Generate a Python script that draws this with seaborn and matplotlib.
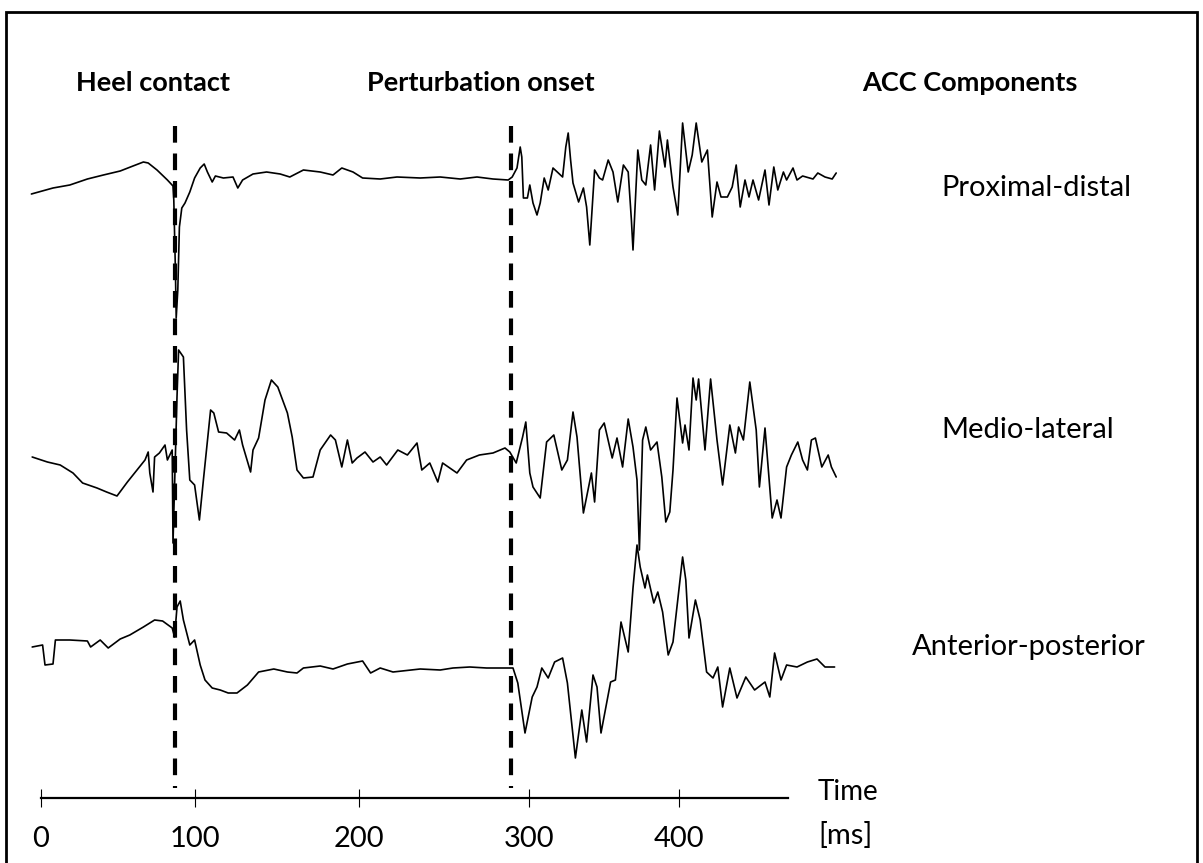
import numpy as np
import pandas as pd
import matplotlib
matplotlib.use("Agg")
import matplotlib.pyplot as plt
from matplotlib.patches import Rectangle
import seaborn as sns

# ---------------- data (time in ms, amplitude in arbitrary units) ----------------
pd_time = [-6, 7.5, 18, 29, 39, 49.5, 57.5, 64, 67, 72.5, 79, 82.5, 83, 84, 84.5, 85.5, 86.5, 88, 90, 93,
           96, 99.5, 102, 104, 107, 109, 114, 120, 123, 126, 132.5, 141, 149.5, 155.5, 164, 174.5, 182.5,
           188, 195, 201, 212, 222.5, 237, 249.5, 262, 272.5, 282.5, 292, 294.5, 297.5, 299.5, 300.5,
           301.5, 304, 305.5, 307.5, 310, 312, 314.5, 317, 320, 326, 328, 329.5, 331, 332.5, 336, 339,
           341, 343, 346, 349, 351, 354.5, 357.5, 360.5, 364, 367, 369, 370, 372.5, 373, 375.5, 378, 381,
           383.5, 386.5, 390, 391.5, 395, 398, 401, 404.5, 407, 409.5, 413, 416.5, 419.5, 422.5, 425,
           429, 432, 434.5, 437, 440, 442.5, 445, 448.5, 452.5, 455, 458, 460.5, 464, 466, 470, 472.5,
           476, 482.5, 485.5, 490, 494.5, 497]
pd_vals = [-16, -10, -7, -1, 3, 7, 12, 16, 15, 8, -2, -8, -22, -92, -140, -112, -49, -30, -25, -14,
           0, 10, 14, 6, -4, 2, 0, 1, -10, -2, 4, 6, 4, 1, 8, 6, 3,
           10, 6, 0, -1, 1, 0, 1, -1, 1, -1, -2, 1, 10, 31, 21,
           -20, -20, -7, -25, -37, -25, 0, -12, 10, 1, 31, 45, 18, -5, -24, -10,
           -29, -67, 8, 0, -2, 18, 6, -24, 13, 6, -42, -72, 11, 28, -2, -7, 33,
           -12, 47, 11, 38, -9, -37, 55, 6, 23, 55, 16, 28, -39, -4, -19,
           -19, -9, 13, -29, -2, -19, -2, -22, 8, -27, 11, -12, 6, -2, 10, -2,
           2, -1, 5, 1, -1, 5]

ml_time = [-5.5, 4, 12, 20, 26, 35, 41, 47.5, 54, 60, 65, 67, 68, 70, 71, 74, 77.5, 79, 82, 82.5, 85,
           86, 89, 91, 93, 96, 99, 101.5, 106, 108, 111, 116, 121, 124, 126, 131, 132.5, 136, 140, 144,
           148, 154, 157, 160, 164, 170, 174.5, 181, 184, 188, 191.5, 194.5, 197.5, 202.5, 207.5, 212,
           216, 223, 229, 235, 238, 243, 248, 251, 260, 266, 274, 282.5, 290, 293, 297, 301, 303, 305.5,
           307.5, 312, 316, 320.5, 325.5, 329, 332.5, 335, 339, 344, 346, 349, 352, 357, 360, 363.5, 367,
           370, 372.5, 374, 376, 378, 381, 385, 388, 390.5, 393, 395, 397.5, 401, 402.5, 405, 407.5,
           409.5, 411, 415, 418.5, 422.5, 426, 430.5, 434, 436, 439, 443, 447, 449, 452.5, 457, 460,
           462.5, 466, 469, 473, 476, 479, 481.5, 484, 488, 492, 494, 497]
ml_vals = [-2, -7, -10, -18, -28, -33, -37, -41, -27, -15, -5, 3, -18, -37, -2, 2, 10, -5, 5, -88, 58,
           105, 98, 25, -25, -30, -65, -25, 45, 42, 23, 22, 15, 25, 10, -17, 5, 17, 55, 75,
           68, 42, 18, -15, -23, -22, 5, 20, 15, -12, 15, -8, -3, 3, -7, -2,
           -10, 5, 0, 12, -15, -8, -27, -8, -18, -5, 0, 2, 7, 3, -8, 18, 33, -18,
           -32, -43, 13, 20, -15, -5, 43, 18, -58, -18, -47, 25, 32, -3, 17, -12, 36,
           8, -25, -95, 15, 28, 5, 13, -22, -67, -57, -15, 57, 12, 30, 5, 77,
           55, 76, 5, 76, 15, -30, 30, 2, 28, 15, 73, 25, -32, 27, -63, -45,
           -63, -12, 0, 13, -5, -15, 15, 17, -12, 0, -12, -22]

ap_time = [-5.5, 1, 2.5, 7.5, 9, 18, 29, 31, 37, 42, 49.5, 55.5, 64, 71, 76, 82, 83.5, 85, 87, 89, 93,
           96, 99.5, 102.5, 107, 112, 117, 122.5, 129, 136, 145.5, 154, 160, 164, 174.5, 182.5, 191.5,
           201, 206, 212, 220, 237, 249.5, 257.5, 268, 278.5, 291, 295, 298, 302.5, 307, 310, 313, 317,
           321, 326, 329, 334, 338, 341, 345, 347.5, 350, 356, 359, 362.5, 367, 370, 372.5, 374.5,
           377.5, 379, 383, 385.5, 388.5, 392, 395, 401, 403, 405, 409, 412, 416, 420, 423, 426, 430.5,
           435, 440.5, 446, 452.5, 455.5, 458.5, 462.5, 466, 472.5, 479, 485, 490, 496]
ap_vals = [21, 23, 3, 4, 28, 28, 27, 21, 28, 20, 29, 33, 41, 48, 47, 40, 31, 61, 67, 48, 23,
           28, 3, -12, -20, -22, -25, -25, -17, -4, -1, -4, -5, 0, 2, -1, 4,
           7, -5, 0, -4, -1, -2, 0, 1, 0, 0, 0, -15, -65, -29, -19, 0, -10,
           6, 10, -15, -90, -42, -74, -7, -19, -65, -14, -12, 46, 16, 80, 123, 101,
           80, 93, 65, 76, 56, 13, 26, 111, 88, 30, 68, 48, -4, -10, 1, -39, 0,
           -30, -9, -22, -14, -29, 15, -12, 3, 1, 6, 9, 1, 1]

components = ["Proximal-distal", "Medio-lateral", "Anterior-posterior"]
events = ["Heel contact", "Perturbation onset"]
event_times = [83.75, 293.75]
tick_pos = [0, 96, 199, 305, 399]
tick_labels = ["0", "100", "200", "300", "400"]

# ---------------- layout ----------------
W, H = 1203, 863
baselines = [685, 408, 195]   # vertical offsets of each trace

frames = []
for name, t, v, base in zip(components, [pd_time, ml_time, ap_time],
                            [pd_vals, ml_vals, ap_vals], baselines):
    frames.append(pd.DataFrame({"time": t, "y": np.asarray(v, float) + base,
                                "component": name}))
df = pd.concat(frames, ignore_index=True)

sns.set_theme(style="white")
plt.rcParams["font.family"] = ["Lato", "DejaVu Sans"]

fig = plt.figure(figsize=(W / 100, H / 100), dpi=100)
ax = fig.add_axes([0, 0, 1, 1])
ax.set_facecolor("white")

sns.lineplot(data=df, x="time", y="y", hue="component", palette=["black"] * 3,
             estimator=None, sort=False, legend=False, linewidth=1.2, ax=ax)

ax.set_xlim(-25.625, 726.25)
ax.set_ylim(0, H)

# dashed event lines (drawn top-down so the pattern starts with a dash at the top)
for t in event_times:
    ax.plot([t, t], [737, 75], color="black", linewidth=3, linestyle=(0, (4.0, 2.6)),
            solid_capstyle="butt", dash_capstyle="butt")

# time axis
for s in ["left", "top", "right"]:
    ax.spines[s].set_visible(False)
ax.spines["bottom"].set_position(("data", 65))
ax.spines["bottom"].set_bounds(0, 467)
ax.spines["bottom"].set_linewidth(1.6)
ax.spines["bottom"].set_color("black")
ax.set_xticks(tick_pos, tick_labels)
ax.set_yticks([])
ax.tick_params(axis="x", direction="inout", length=13, width=0.8, pad=14,
               labelsize=21, colors="black", bottom=True)
ax.set_xlabel("")
ax.set_ylabel("")

def ftxt(px, py, s, **kw):
    fig.text(px / W, 1 - py / H, s, va="center", color="black", **kw)

ftxt(153, 83, events[0], ha="center", fontsize=19.5, fontweight="bold")
ftxt(481, 83, events[1], ha="center", fontsize=19.5, fontweight="bold")
ftxt(970, 83, "ACC Components", ha="center", fontsize=19.5, fontweight="bold")
ftxt(941, 188, components[0], ha="left", fontsize=21)
ftxt(941, 430, components[1], ha="left", fontsize=21)
ftxt(1029, 647, components[2], ha="center", fontsize=21)
ftxt(818, 792, "Time", ha="left", fontsize=20)
ftxt(818, 835, "[ms]", ha="left", fontsize=21)

# outer frame
fig.patches.append(Rectangle((6 / W, -0.01), (1197 - 6) / W, (H - 12.5) / H + 0.01,
                             transform=fig.transFigure, fill=False, lw=2, ec="black",
                             clip_on=False))

fig.savefig("out.png", dpi=100, facecolor="white")
